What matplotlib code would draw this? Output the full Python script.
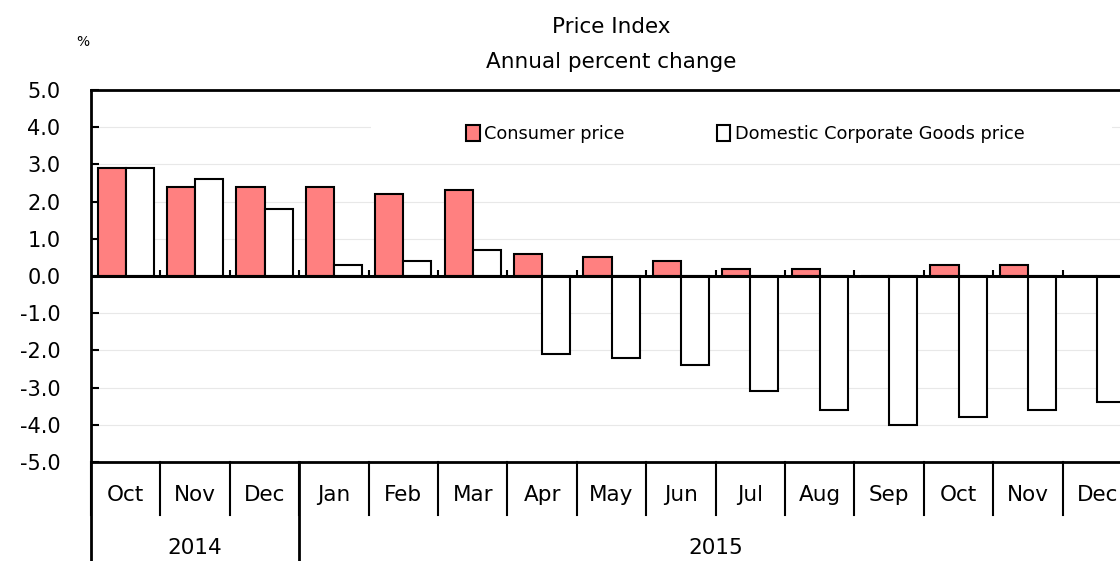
import matplotlib
matplotlib.use("Agg")
import matplotlib.pyplot as plt
from matplotlib.patches import Patch, Rectangle
import matplotlib.transforms as mtransforms

months = ["Oct", "Nov", "Dec", "Jan", "Feb", "Mar", "Apr", "May", "Jun",
          "Jul", "Aug", "Sep", "Oct", "Nov", "Dec"]
years = ["2014", "2015"]
year_spans = [(0, 3), (3, 15)]  # [start, end) month index per year
consumer = [2.9, 2.4, 2.4, 2.4, 2.2, 2.3, 0.6, 0.5, 0.4, 0.2, 0.2, 0.0, 0.3, 0.3, 0.0]
domestic = [2.9, 2.6, 1.8, 0.3, 0.4, 0.7, -2.1, -2.2, -2.4, -3.1, -3.6, -4.0, -3.8, -3.6, -3.4]
yticks = [-5.0, -4.0, -3.0, -2.0, -1.0, 0.0, 1.0, 2.0, 3.0, 4.0, 5.0]

plt.rcParams['font.family'] = ['DejaVu Sans']

W, H = 1120, 561
fig = plt.figure(figsize=(W / 100, H / 100), dpi=100)
left_px, right_px, top_px, bot_px = 91, 1132, 90, 462
ax = fig.add_axes([left_px / W, 1 - bot_px / H, (right_px - left_px) / W, (bot_px - top_px) / H])

n = len(months)
x = list(range(n))
bw = 0.405
ax.bar([i - bw / 2 for i in x], consumer, width=bw, color="#FF8080",
       edgecolor="black", linewidth=1.5, zorder=3, label="Consumer price")
ax.bar([i + bw / 2 for i in x], domestic, width=bw, color="white",
       edgecolor="black", linewidth=1.5, zorder=3, label="Domestic Corporate Goods price")

ax.set_xlim(-0.5, n - 0.5)
ax.set_ylim(-5, 5)
ax.set_yticks(yticks)
ax.set_yticklabels([f"{v:.1f}" for v in yticks], fontsize=15)
ax.tick_params(axis="y", direction="in", length=6, width=1.5, pad=22)
ax.set_xticks([])
for yv in yticks:
    if yv not in (-5.0, 0.0, 5.0):
        ax.axhline(yv, color="#E8E8E8", linewidth=0.8, zorder=0)

# legend background area (white, hides gridline like the original)
ax.add_patch(Rectangle((371 / W, 1 - 152 / H), (1112 - 371) / W, 40 / H,
                       transform=fig.transFigure, facecolor="white",
                       edgecolor="none", zorder=1))

ax.axhline(0, color="black", linewidth=2.2, zorder=4)
# small ticks on the zero line at category boundaries
ax.vlines([i - 0.5 for i in range(1, n)], 0, 0.16, color="black", linewidth=1.5, zorder=4)

for s in ["left", "top", "bottom"]:
    ax.spines[s].set_linewidth(2.0)
ax.spines["right"].set_visible(False)

# category table under axis
trans = mtransforms.blended_transform_factory(ax.transData, ax.transAxes)
h_ax = bot_px - top_px
y_month = -(495 - bot_px) / h_ax
y_sep = -(515 - bot_px) / h_ax
y_year = -(548 - bot_px) / h_ax
y_bottom = -(H + 5 - bot_px) / h_ax
for i, m in enumerate(months):
    ax.text(i, y_month, m, transform=trans, ha="center", va="center", fontsize=15.5)
for i in range(n + 1):
    ax.plot([i - 0.5, i - 0.5], [0, y_sep], transform=trans, color="black",
            linewidth=1.5, clip_on=False)
for (a, b), yr in zip(year_spans, years):
    ax.text((a + b - 1) / 2, y_year, yr, transform=trans, ha="center", va="center", fontsize=15.5)
    ax.plot([a - 0.5, a - 0.5], [0, y_bottom], transform=trans, color="black",
            linewidth=2.0, clip_on=False)

# titles
fig.text(611 / W, 1 - 27 / H, "Price Index", ha="center", va="center", fontsize=15.5)
fig.text(611 / W, 1 - 62 / H, "Annual percent change", ha="center", va="center", fontsize=15.5)
fig.text(83 / W, 1 - 42 / H, "%", ha="center", va="center", fontsize=10)

handles = [Patch(facecolor="#FF8080", edgecolor="black", linewidth=1.5),
           Patch(facecolor="white", edgecolor="black", linewidth=1.5)]
leg = ax.legend(handles, ["Consumer price", "Domestic Corporate Goods price"],
                ncol=2, loc="center left",
                bbox_to_anchor=(461 / W, 1 - 134 / H), bbox_transform=fig.transFigure,
                fontsize=12.8, handlelength=0.75, handleheight=1.0, handletextpad=0.25,
                columnspacing=5.2, frameon=False, borderpad=0.3,
                borderaxespad=0)
leg.set_zorder(5)

fig.savefig("out.png", dpi=100)
